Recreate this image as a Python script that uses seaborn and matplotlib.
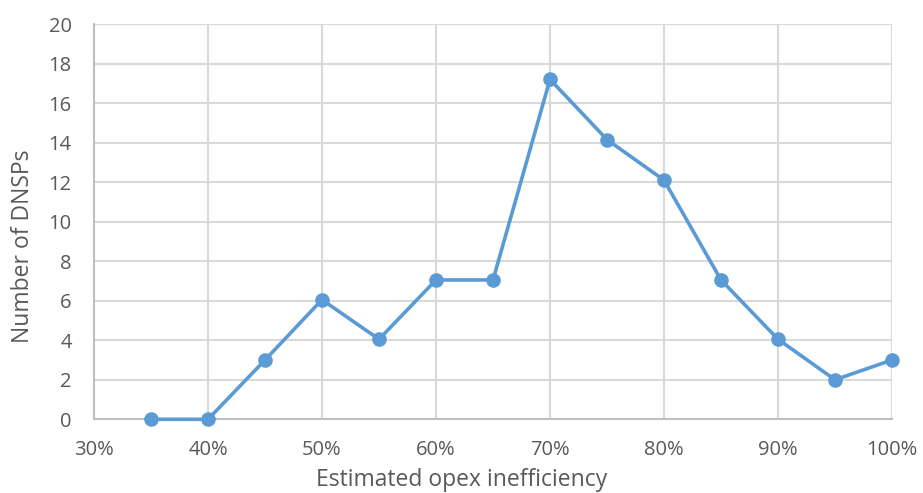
import matplotlib
matplotlib.use("Agg")
import matplotlib.pyplot as plt
import seaborn as sns
import pandas as pd

# Share of opex inefficiency (%) and number of DNSPs at each level
inefficiency_pct = [35, 40, 45, 50, 55, 60, 65, 70, 75, 80, 85, 90, 95, 100]
dnsp_count = [0, 0, 3, 6.05, 4.05, 7.05, 7.05, 17.2, 14.15, 12.1, 7.05, 4.05, 2.0, 3.0]

x_ticks = [30, 40, 50, 60, 70, 80, 90, 100]
x_tick_labels = ["30%", "40%", "50%", "60%", "70%", "80%", "90%", "100%"]
y_ticks = [0, 2, 4, 6, 8, 10, 12, 14, 16, 18, 20]

df = pd.DataFrame({"ineff": inefficiency_pct, "count": dnsp_count})

sns.set_theme(style="white")
plt.rcParams["font.family"] = ["Open Sans", "DejaVu Sans"]

fig = plt.figure(figsize=(9.23, 4.93), dpi=100)
ax = fig.add_axes([94 / 923, 1 - 419.3 / 493, (892 - 94) / 923, (419.3 - 24) / 493])

line_color = "#5B9BD5"
sns.lineplot(data=df, x="ineff", y="count", ax=ax, color=line_color,
             linewidth=2.6, marker="o", markersize=10.5,
             markeredgecolor=line_color, markeredgewidth=0, zorder=3,
             clip_on=False)

ax.set_xlim(30, 100)
ax.set_ylim(0, 20)
ax.set_xticks(x_ticks)
ax.set_xticklabels(x_tick_labels)
ax.set_yticks(y_ticks)

grid_color = "#d9d9d9"
ax.grid(True, color=grid_color, linewidth=1.5, zorder=0)
ax.set_axisbelow(True)
for side in ["top", "right"]:
    ax.spines[side].set_visible(False)
for side in ["left", "bottom"]:
    ax.spines[side].set_color("#bfbfbf")
    ax.spines[side].set_linewidth(1.5)

text_color = "#595959"
ax.tick_params(axis="both", length=0, labelsize=14.5, colors=text_color)
ax.tick_params(axis="y", pad=16)
ax.tick_params(axis="x", pad=15)

ax.set_xlabel("Estimated opex inefficiency", fontsize=16.5, color=text_color)
ax.set_ylabel("Number of DNSPs", fontsize=16.5, color=text_color)
ax.xaxis.set_label_coords(0.5, (493 - 480) / 493, transform=fig.transFigure)
ax.xaxis.label.set_verticalalignment("center")
ax.yaxis.set_label_coords(23 / 923, 0.5, transform=fig.transFigure)
ax.yaxis.label.set_verticalalignment("center")

fig.savefig("out.png", dpi=100)
